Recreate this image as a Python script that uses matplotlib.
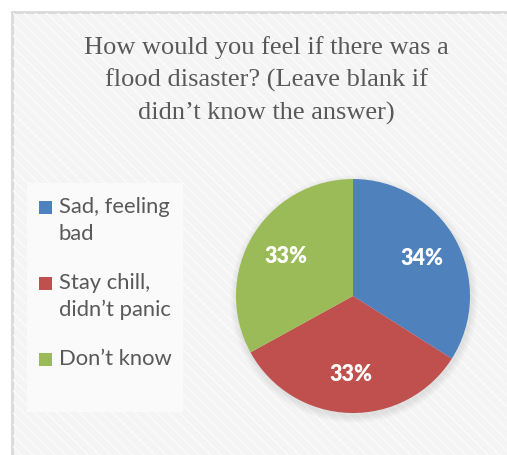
import matplotlib
matplotlib.use("Agg")
import matplotlib.pyplot as plt
import matplotlib.patches as patches

# Chart data
title = "How would you feel if there was a\nflood disaster? (Leave blank if\ndidn\u2019t know the answer)"
labels = ["Sad, feeling\nbad", "Stay chill,\ndidn\u2019t panic", "Don\u2019t know"]
shares = [34, 33, 33]
colors = ["#4f81bd", "#c0504d", "#9bbb59"]

W, H = 507, 455
DPI = 100

fig = plt.figure(figsize=(W / DPI, H / DPI), dpi=DPI)
fig.patch.set_facecolor("white")

# Background axes in pixel coordinates (y grows downwards)
bg = fig.add_axes([0, 0, 1, 1])
bg.set_xlim(0, W)
bg.set_ylim(H, 0)
bg.axis("off")

# Chart area with light hatched fill
bg.add_patch(patches.Rectangle((11.5, 11.5), W + 10, H + 10, facecolor="#f4f4f4",
                               edgecolor="#d9d9d9", linewidth=2.0))
bg.add_patch(patches.Rectangle((12.5, 12.5), W + 10, H + 10, facecolor="none",
                               edgecolor="#fbfbfb", linewidth=0, hatch="\\\\\\"))

# Title, one line at a time
for i, line in enumerate(title.split("\n")):
    bg.text(266, 48 + 32.5 * i, line, ha="center", va="center", fontsize=19,
            family="Liberation Serif", color="#595959")

# Legend box
bg.add_patch(patches.Rectangle((27, 183), 156, 229, facecolor="#fafafa",
                               edgecolor="none"))
y = 207
for lab, col in zip(labels, colors):
    bg.add_patch(patches.Rectangle((39, y - 6.5), 13, 13, facecolor=col,
                                   edgecolor="none"))
    for line in lab.split("\n"):
        bg.text(59, y, line, ha="left", va="center", fontsize=15.8, family="Lato",
                color="#595959")
        y += 26.5
    y += 23

# Soft shadow behind the pie
cx, cy, r = 353, 296, 117
for k in range(7, 0, -1):
    bg.add_patch(patches.Circle((cx + 1, cy + 3), r + k, facecolor="#000000",
                                edgecolor="none", alpha=0.012))

# Pie
pie_ax = fig.add_axes([(cx - r) / W, (H - cy - r) / H, 2 * r / W, 2 * r / H])
wedges, texts, autotexts = pie_ax.pie(
    shares, colors=colors, startangle=90, counterclock=False,
    autopct="%d%%", pctdistance=0.67,
    wedgeprops=dict(edgecolor="none"),
    textprops=dict(color="white", fontsize=15.5, fontweight="heavy", family="Lato"))
pie_ax.set_xlim(-1, 1)
pie_ax.set_ylim(-1, 1)
pie_ax.set_aspect("equal")

plt.savefig("out.png", dpi=DPI)
